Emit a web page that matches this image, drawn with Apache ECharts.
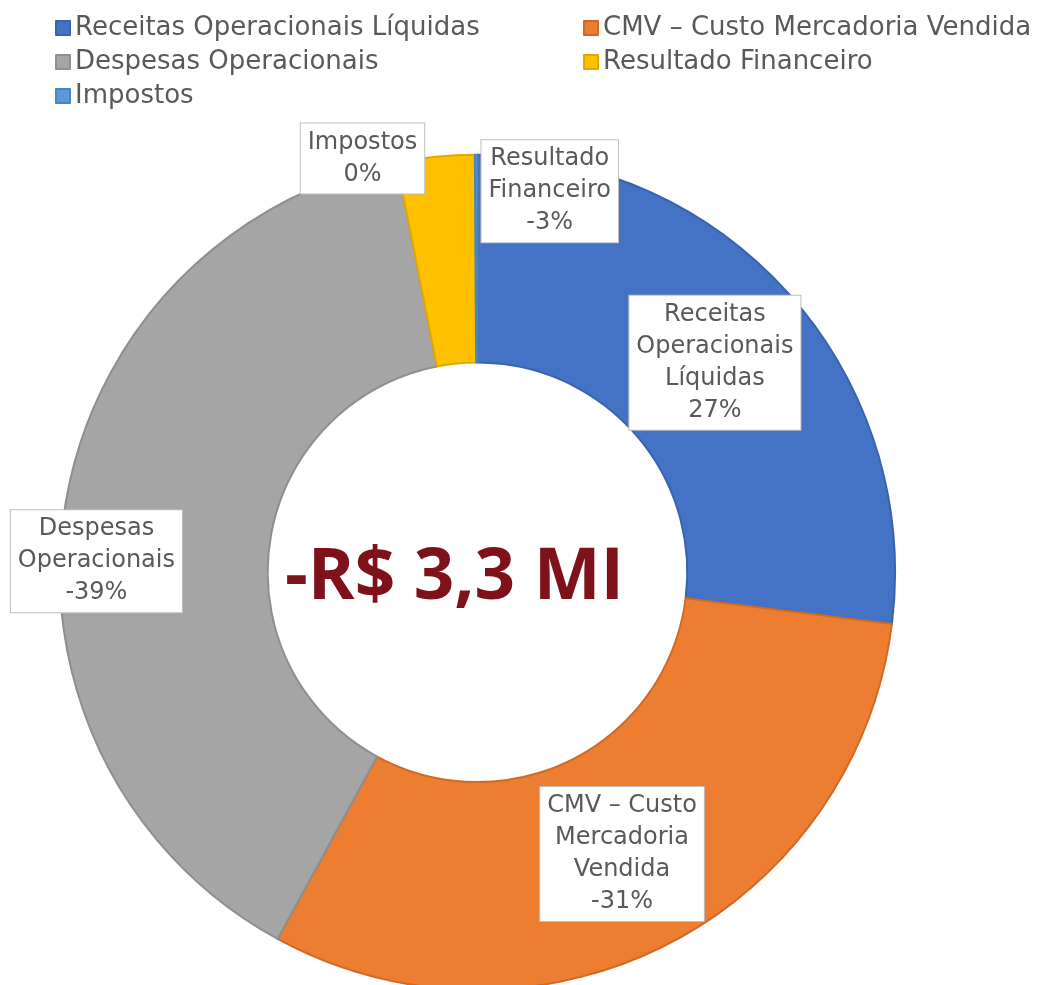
<!DOCTYPE html>
<html>
<head>
<meta charset="utf-8">
<script src="https://cdn.jsdelivr.net/npm/echarts@6/dist/echarts.min.js"></script>
<style>
  html, body { margin: 0; padding: 0; background: #fff; }
  #chart { width: 1038px; height: 985px; }
</style>
</head>
<body>
<div id="chart"></div>
<script>
// categorias e participação (%) no resultado
const categorias = [
  "Receitas Operacionais Líquidas",
  "CMV – Custo Mercadoria Vendida",
  "Despesas Operacionais",
  "Resultado Financeiro",
  "Impostos"
]
const rotulos = [
  "Receitas\nOperacionais\nLíquidas",
  "CMV – Custo\nMercadoria\nVendida",
  "Despesas\nOperacionais",
  "Resultado\nFinanceiro",
  "Impostos"
]
const participacao = [27, -31, -39, -3, -0.1]
const resultado = "-R$ 3,3 MI"

const cores = ["#4472C4", "#ED7D31", "#A5A5A5", "#FFC000", "#5B9BD5"]
const bordas = ["#3A63AD", "#D06A26", "#8F8F8F", "#E0A800", "#4A86BE"]

// deslocamento dos rótulos movidos à mão no original
const deslocRotulo = {
  2: { dx: -68, dy: 37 },
  3: { dx: 104, dy: -66 },
  4: { dx: -114, dy: -97 }
}

const fonte = "'DejaVu Sans', sans-serif"
const chart = echarts.init(document.getElementById("chart"))

const labelBox = {
  color: "#595959",
  fontFamily: fonte,
  fontSize: 24,
  lineHeight: 32,
  backgroundColor: "#fff",
  borderColor: "#BFBFBF",
  borderWidth: 1,
  padding: [4, 7, 2, 7],
  align: "center"
}

const legendText = { color: "#595959", fontFamily: fonte, fontSize: 26 }

const options = {
  animation: false,
  color: cores,
  legend: [
    {
      orient: "vertical",
      left: 50,
      top: 10,
      itemWidth: 14,
      itemHeight: 14,
      itemGap: 8,
      icon: "rect",
      textStyle: legendText,
      data: [categorias[0], categorias[2], categorias[4]]
    },
    {
      orient: "vertical",
      left: 578,
      top: 10,
      itemWidth: 14,
      itemHeight: 14,
      itemGap: 8,
      icon: "rect",
      textStyle: legendText,
      data: [categorias[1], categorias[3]]
    }
  ],
  graphic: [
    {
      type: "text",
      left: 285,
      top: 543,
      style: {
        text: resultado,
        fill: "#7F111B",
        fontFamily: "'Open Sans', sans-serif",
        fontWeight: "bold",
        fontSize: 71
      }
    }
  ],
  series: [
    {
      type: "pie",
      center: ["46%", "58.1%"],
      radius: ["42.6%", "84.8%"],
      startAngle: 90,
      clockwise: true,
      avoidLabelOverlap: false,
      label: {
        show: true,
        position: "inside",
        ...labelBox,
        formatter: (p) =>
          rotulos[p.dataIndex] + "\n" + String(Math.round(participacao[p.dataIndex])) + "%"
      },
      labelLine: { show: false },
      labelLayout: (p) => deslocRotulo[p.dataIndex] || {},
      data: categorias.map((nome, i) => ({
        name: nome,
        value: Math.abs(participacao[i]),
        itemStyle: { borderColor: bordas[i], borderWidth: 2 }
      }))
    }
  ]
}

chart.setOption(options)
window.onresize = function () {
  chart.resize()
}
</script>
</body>
</html>
